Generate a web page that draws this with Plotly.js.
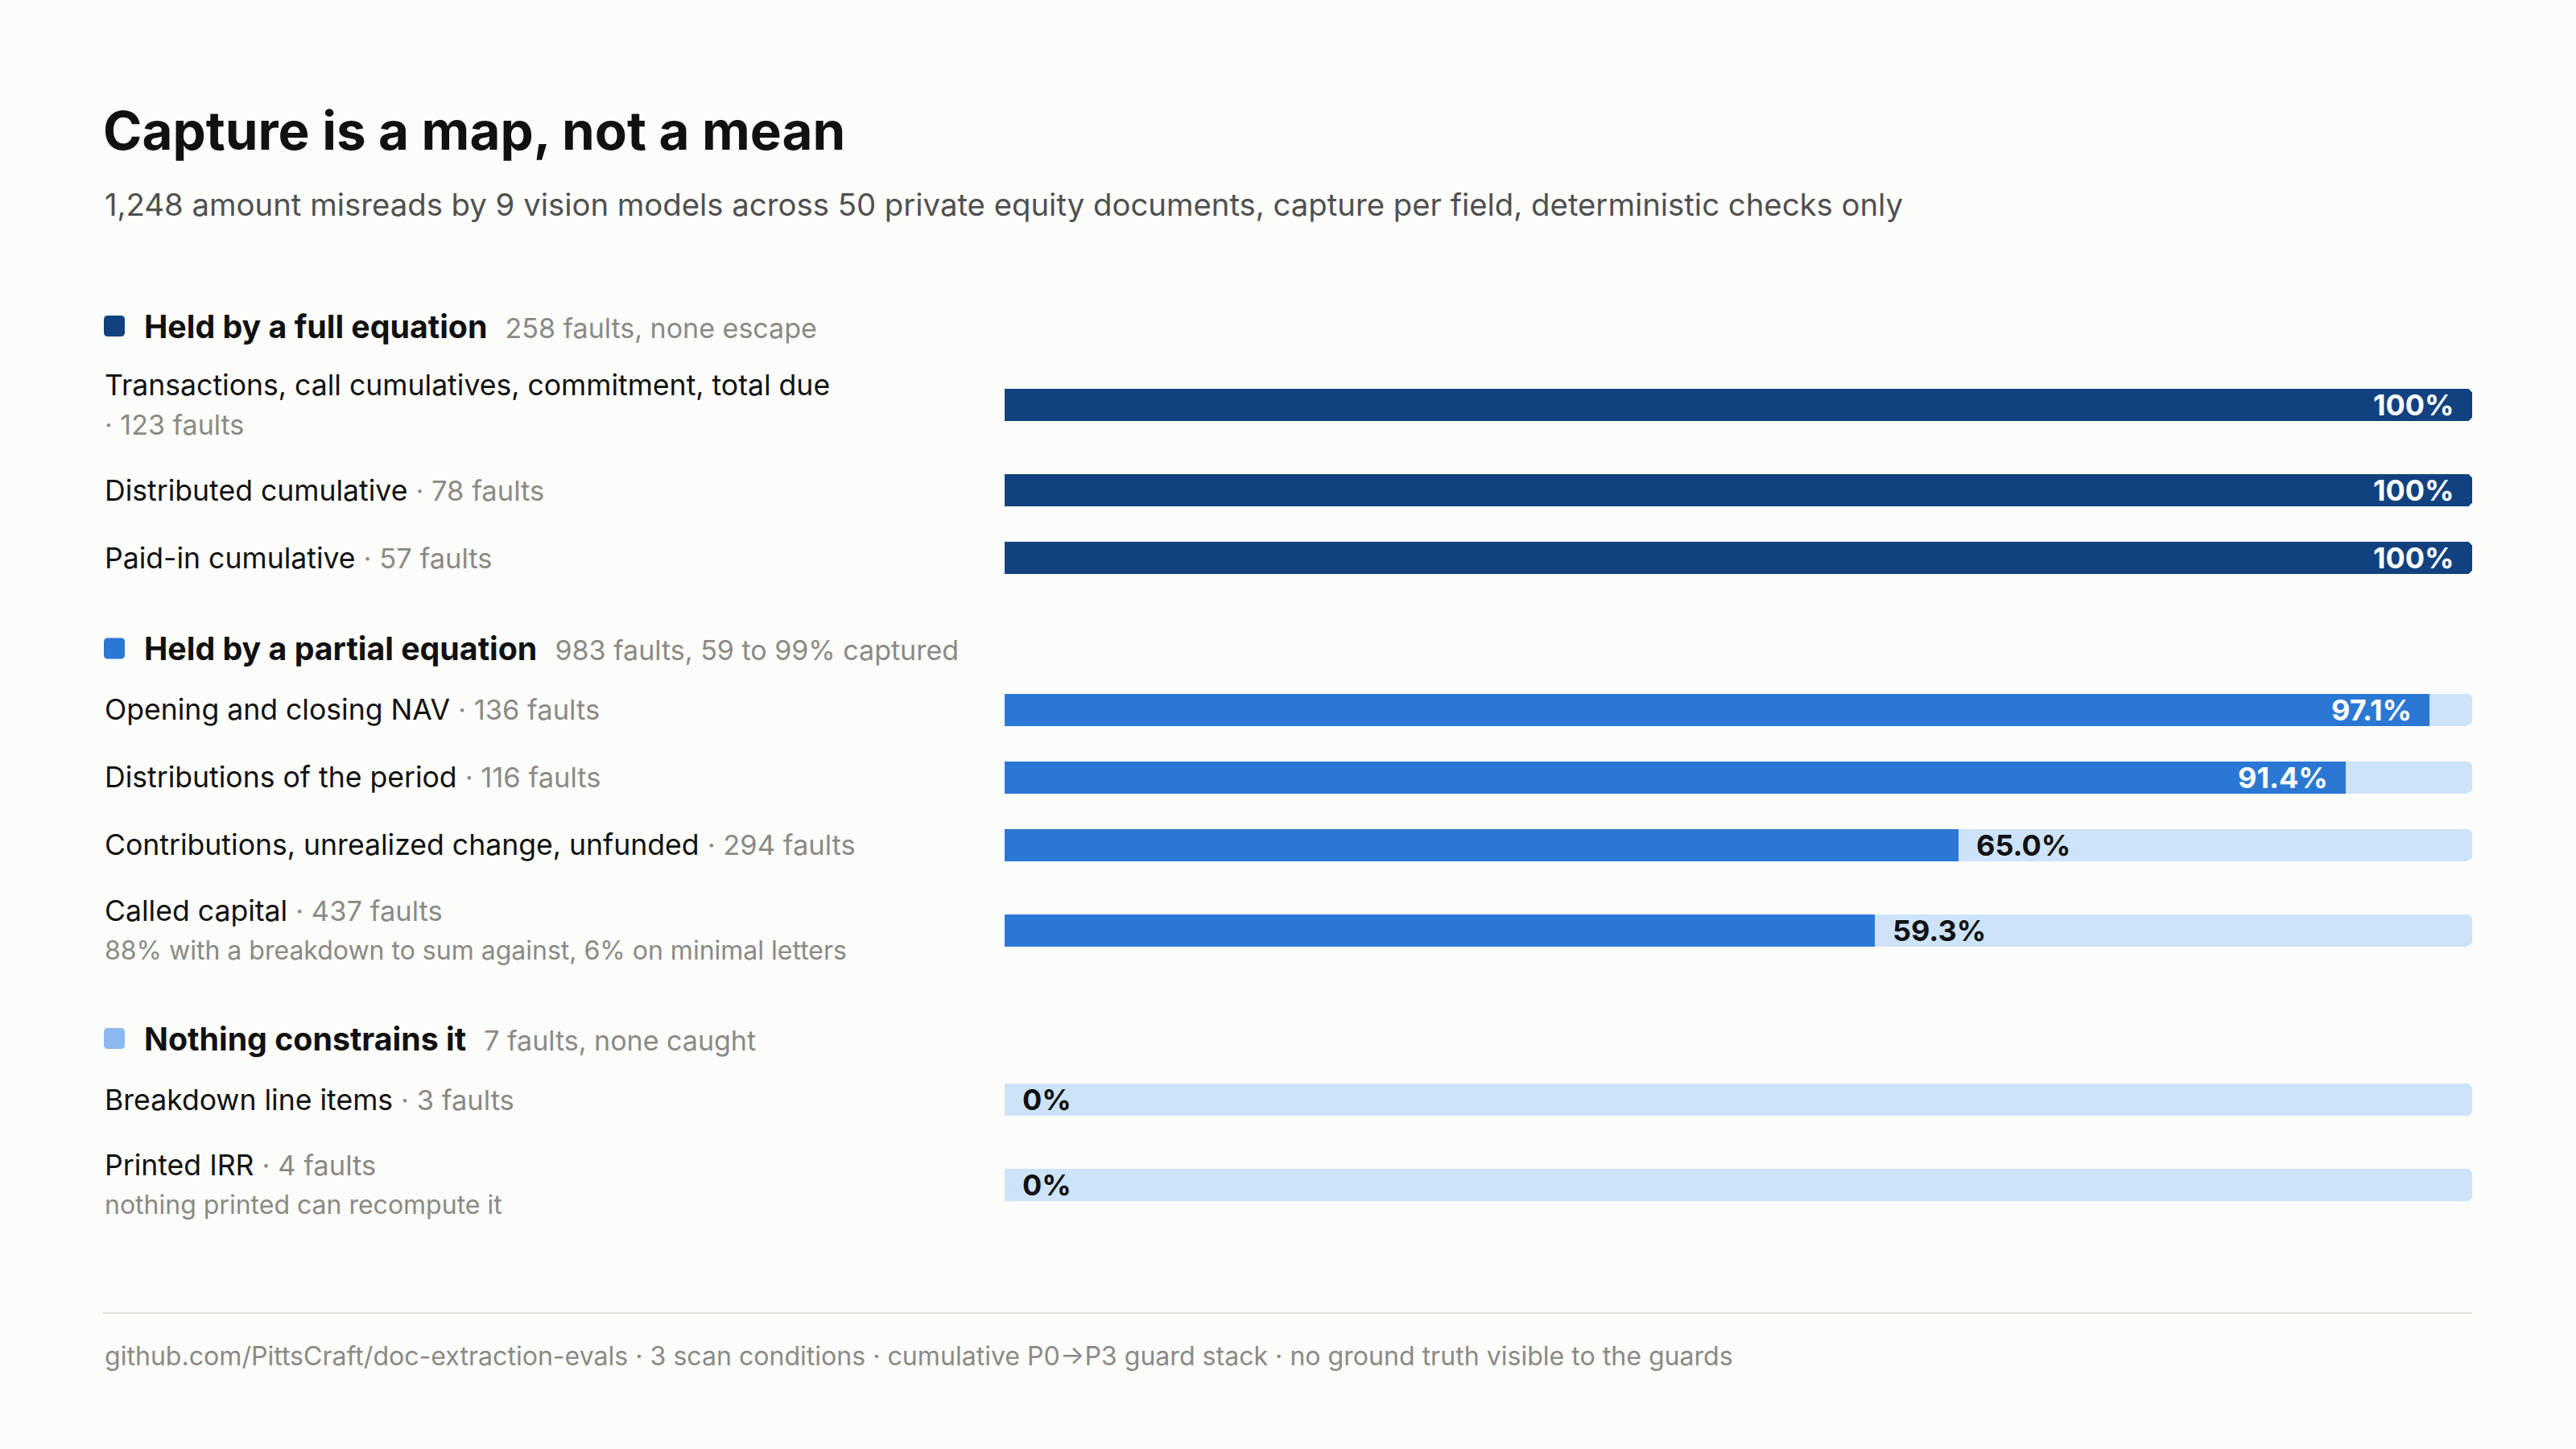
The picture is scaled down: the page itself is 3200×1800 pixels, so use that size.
<!DOCTYPE html>
<html><head><meta charset="utf-8">
<script src="https://cdn.plot.ly/plotly-3.0.1.min.js"></script>
<style>html,body{margin:0;padding:0;background:#fcfcfa;} #chart{width:3200px;height:1800px;}</style>
</head><body><div id="chart"></div>
<script>
// ---- data ----
const groupNames = ["Held by a full equation", "Held by a partial equation", "Nothing constrains it"];
const groupNotes = ["258 faults, none escape", "983 faults, 59 to 99% captured", "7 faults, none caught"];
const fieldNames = [
  "Transactions, call cumulatives, commitment, total due",
  "Distributed cumulative",
  "Paid-in cumulative",
  "Opening and closing NAV",
  "Distributions of the period",
  "Contributions, unrealized change, unfunded",
  "Called capital",
  "Breakdown line items",
  "Printed IRR"
];
const fieldGroup = [0, 0, 0, 1, 1, 1, 1, 2, 2];
const fieldFaults = [123, 78, 57, 136, 116, 294, 437, 3, 4];
const capturePct = [100, 100, 100, 97.1, 91.4, 65.0, 59.3, 0, 0];
const fieldNotes = ["", "", "", "", "", "", "88% with a breakdown to sum against, 6% on minimal letters", "", "nothing printed can recompute it"];
const titleText = "Capture is a map, not a mean";
const subtitleText = "1,248 amount misreads by 9 vision models across 50 private equity documents, capture per field, deterministic checks only";
const footerText = "github.com/PittsCraft/doc-extraction-evals · 3 scan conditions · cumulative P0→P3 guard stack · no ground truth visible to the guards";

// ---- style ----
const W = 3200, H = 1800;
const FONT = "Inter, 'Noto Sans', sans-serif";
const INK = "#111111", GRAY = "#8a8a85", SUB = "#505050";
const groupColors = ["#11427f", "#2b78d4", "#8ab8f0"];
const barColors = ["#11427f", "#2b78d4", "#2b78d4"];
const TRACK = "#cde3fa";
const LEFT = 128, TRACK0 = 1248, TRACK1 = 3071, RIGHT = 3071;
const px = v => v / W;

// ---- layout of rows ----
const isTwo = i => fieldNotes[i] !== "" || fieldNames[i].length > 45;
const rowY = [], headerY = [];
let y = 405, prevTwo = false;
groupNames.forEach((g, gi) => {
  if (gi > 0) y += 112.5 + (prevTwo ? 22 : 0);
  headerY.push(y);
  let first = true;
  fieldGroup.forEach((fg, i) => {
    if (fg !== gi) return;
    const two = isTwo(i);
    y += (first ? 76 : 84) + (!first && prevTwo ? 22 : 0) + (two ? 22 : 0);
    rowY[i] = y; prevTwo = two; first = false;
  });
});

const fmt = v => (v === 100 || v === 0) ? v + "%" : v.toFixed(1) + "%";

const traces = [
  {
    type: "bar", orientation: "h",
    x: capturePct.map(() => 100), y: rowY, width: 40,
    marker: {color: TRACK, cornerradius: 7},
    hoverinfo: "skip", showlegend: false
  },
  {
    type: "bar", orientation: "h",
    x: capturePct, y: rowY, width: 40,
    marker: {color: fieldGroup.map(g => barColors[g]), cornerradius: 7},
    hoverinfo: "skip", showlegend: false
  }
];

const annotations = [];
const shapes = [];
const grayspan = (t, s) => `<span style="color:${GRAY};font-size:${s}px">${t}</span>`;

// subtitle
annotations.push({xref: "paper", yref: "y", x: px(LEFT), y: 254, xanchor: "left", yanchor: "middle",
  text: subtitleText, showarrow: false, font: {family: FONT, size: 38.3, color: SUB}});
// group headers
groupNames.forEach((g, gi) => {
  const hy = headerY[gi];
  const x0 = px(129), x1 = px(155), r = 5;
  const rx = px(r);
  shapes.push({type: "path", xref: "paper", yref: "y", fillcolor: groupColors[gi], line: {width: 0},
    path: `M ${x0 + rx} ${hy - 13} L ${x1 - rx} ${hy - 13} Q ${x1} ${hy - 13} ${x1} ${hy - 13 + r} L ${x1} ${hy + 13 - r} Q ${x1} ${hy + 13} ${x1 - rx} ${hy + 13} L ${x0 + rx} ${hy + 13} Q ${x0} ${hy + 13} ${x0} ${hy + 13 - r} L ${x0} ${hy - 13 + r} Q ${x0} ${hy - 13} ${x0 + rx} ${hy - 13} Z`});
  annotations.push({xref: "paper", yref: "y", x: px(177), y: hy, xanchor: "left", yanchor: "middle",
    text: `<b>${g}</b>\u00a0 ${grayspan(groupNotes[gi], 34)}`, showarrow: false,
    font: {family: FONT, size: 39.3, color: INK}});
});
// row labels
fieldNames.forEach((n, i) => {
  const two = isTwo(i);
  const wrapFaults = n.length > 45;
  const faultsTxt = `· ${fieldFaults[i]} faults`;
  const line1 = wrapFaults ? n : `${n} ${grayspan(faultsTxt, 34.5)}`;
  const y1 = two ? rowY[i] - 24.5 : rowY[i];
  annotations.push({xref: "paper", yref: "y", x: px(LEFT), y: y1, xanchor: "left", yanchor: "middle",
    text: line1, showarrow: false, font: {family: FONT, size: 35.6, color: INK}});
  if (two) {
    const line2 = wrapFaults ? faultsTxt : fieldNotes[i];
    annotations.push({xref: "paper", yref: "y", x: px(LEFT), y: rowY[i] + 24.5, xanchor: "left", yanchor: "middle",
      text: line2, showarrow: false, font: {family: FONT, size: wrapFaults ? 34 : 32, color: GRAY}});
  }
  // value label
  const inside = capturePct[i] > 85;
  annotations.push({xref: "x", yref: "y", x: capturePct[i], y: rowY[i], xanchor: inside ? "right" : "left",
    yanchor: "middle", xshift: inside ? -20 : 20, text: `<b>${fmt(capturePct[i])}</b>`, showarrow: false,
    font: {family: FONT, size: 36, color: inside ? "#ffffff" : INK}});
});
// footer
shapes.push({type: "line", xref: "paper", yref: "y", x0: px(LEFT), x1: px(RIGHT), y0: 1631, y1: 1631,
  line: {color: "#e3e3dc", width: 2}});
annotations.push({xref: "paper", yref: "y", x: px(LEFT), y: 1684, xanchor: "left", yanchor: "middle",
  text: footerText, showarrow: false, font: {family: FONT, size: 32.1, color: GRAY}});

const layout = {
  width: W, height: H,
  paper_bgcolor: "#fcfcfa", plot_bgcolor: "rgba(0,0,0,0)",
  margin: {l: 0, r: 0, t: 0, b: 0, pad: 0},
  title: {text: titleText, x: px(LEFT), xref: "container", xanchor: "left",
    y: 1 - 163 / H, yref: "container", yanchor: "middle",
    font: {family: FONT, size: 65.5, weight: 700, color: INK}},
  barmode: "overlay", bargap: 0,
  xaxis: {domain: [px(TRACK0), px(TRACK1)], range: [0, 100], visible: false, fixedrange: true},
  yaxis: {domain: [0, 1], range: [H, 0], visible: false, fixedrange: true},
  annotations, shapes, showlegend: false
};
Plotly.newPlot("chart", traces, layout, {staticPlot: true, displayModeBar: false});
</script></body></html>
